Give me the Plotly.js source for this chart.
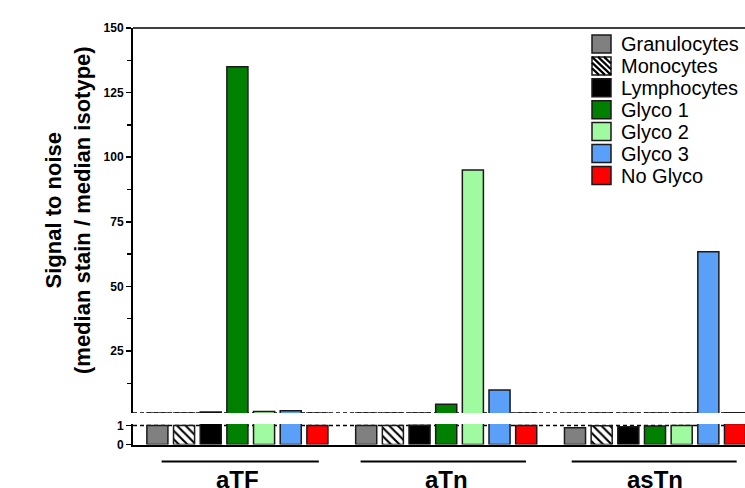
<!DOCTYPE html>
<html>
<head>
<meta charset="utf-8">
<script src="https://cdn.plot.ly/plotly-3.0.1.min.js"></script>
<style>html,body{margin:0;padding:0;background:#fff;}#chart{width:745px;height:488px;}</style>
</head>
<body>
<div id="chart"></div>
<script>
// ---- data ----
const categories = ['aTF', 'aTn', 'asTn'];
const seriesNames = ['Granulocytes', 'Monocytes', 'Lymphocytes', 'Glyco 1', 'Glyco 2', 'Glyco 3', 'No Glyco'];
const granulocytes = [1.0, 1.0, 0.88];
const monocytes = [1.0, 1.0, 0.99];
const lymphocytes = [1.4, 1.02, 0.93];
const glyco1 = [135, 4.4, 0.98];
const glyco2 = [1.6, 95, 1.0];
const glyco3 = [1.9, 9.9, 63.4];
const noGlyco = [1.0, 1.0, 1.1];
const upperTicks = [25, 50, 75, 100, 125, 150];
const lowerTicks = [0, 1];
const threshold = 1;

// ---- styles ----
const seriesValues = [granulocytes, monocytes, lymphocytes, glyco1, glyco2, glyco3, noGlyco];
const fills = ['#808080', '#ffffff', '#000000', '#008000', '#a0fba0', '#5aa0f8', '#ff0000'];
const FONT = '"Liberation Sans", Arial, sans-serif';
const lineStyle = {color: '#1a1a1a', width: 1.5};

// pixel -> paper helpers (plot area: left 133, width 612; height 488)
const PL = 133, PW = 612, H = 488;
const px = function (v) { return (v - PL) / PW; };
const py = function (v) { return (H - v) / H; };

const traces = [];
['y', 'y2'].forEach(function (ya) {
  seriesValues.forEach(function (vals, i) {
    const marker = {color: fills[i], line: lineStyle};
    if (i === 1) {
      marker.pattern = {shape: '\\', fgcolor: '#000000', bgcolor: '#ffffff', size: 6, solidity: 0.35};
    }
    traces.push({
      type: 'bar',
      name: seriesNames[i],
      x: categories,
      y: vals,
      xaxis: 'x',
      yaxis: ya,
      marker: marker,
      showlegend: false,
      hoverinfo: 'skip'
    });
  });
});

const lowerDom = [py(444.5), py(424)];
const upperDom = [py(413), py(28)];

const annotations = categories.map(function (c) {
  return {
    text: '<b>' + c + '</b>', x: c, xref: 'x', y: py(479.5), yref: 'paper',
    xanchor: 'center', yanchor: 'middle', showarrow: false,
    font: {family: FONT, size: 24, color: '#000'}
  };
});
annotations.push({
  text: '<b>Signal to noise<br>(median stain / median isotype)</b>',
  textangle: -90, xref: 'paper', yref: 'paper',
  x: px(68), y: py(210),
  xanchor: 'center', yanchor: 'middle', showarrow: false,
  font: {family: FONT, size: 22, color: '#000'}
});

const underline = [[-0.363, 0.390], [0.590, 1.382], [1.601, 2.391]];
const shapes = underline.map(function (s) {
  return {type: 'line', xref: 'x', yref: 'paper', x0: s[0], x1: s[1],
          y0: py(461.5), y1: py(461.5), line: {color: '#000', width: 2}};
});
shapes.push({type: 'line', xref: 'paper', yref: 'y', x0: 0, x1: 1, y0: threshold, y1: threshold,
             layer: 'below', line: {color: '#000', width: 1.5, dash: '4px,3px'}});
shapes.push({type: 'line', xref: 'paper', yref: 'y2', x0: 0, x1: 1, y0: threshold, y1: threshold,
             layer: 'below', line: {color: '#000', width: 1.5, dash: '4px,3px'}});
shapes.push({type: 'line', xref: 'paper', yref: 'paper', x0: 0, x1: 1, y0: upperDom[1], y1: upperDom[1],
             line: {color: '#000', width: 1.5}});

// ---- legend (drawn manually for exact spacing) ----
const legX0 = 592, legX1 = 611, legTop = 44, legStep = 21.9, legHalf = 9, legTextX = 619;
seriesNames.forEach(function (name, i) {
  const cy = legTop + i * legStep;
  shapes.push({type: 'rect', xref: 'paper', yref: 'paper',
               x0: px(legX0), x1: px(legX1), y0: py(cy + legHalf), y1: py(cy - legHalf),
               fillcolor: fills[i], line: {color: '#1a1a1a', width: 1.5}});
  if (i === 1) {
    const w = legX1 - legX0, h = 2 * legHalf, top = cy - legHalf;
    [-12, -6, 0, 6, 12].forEach(function (d) {
      // lines going down-right ("\")
      let xa, ya, xb, yb;
      if (d >= 0) { xa = legX0 + d; ya = top; xb = legX0 + w; yb = top + (w - d) * h / w; }
      else { xa = legX0; ya = top - d * h / w; xb = legX0 + w + d; yb = top + h; }
      shapes.push({type: 'line', xref: 'paper', yref: 'paper',
                   x0: px(xa), y0: py(ya), x1: px(xb), y1: py(yb),
                   line: {color: '#000', width: 2.2}});
    });
  }
  annotations.push({text: name, xref: 'paper', yref: 'paper', x: px(legTextX), y: py(cy + 0.5),
                    xanchor: 'left', yanchor: 'middle', showarrow: false,
                    font: {family: FONT, size: 20, color: '#000'}});
});

const tickFont = {family: FONT, size: 12, color: '#000', weight: 'bold'};

const layout = {
  width: 745, height: 488,
  margin: {l: 133, r: 0, t: 0, b: 0, autoexpand: false},
  paper_bgcolor: '#fff', plot_bgcolor: 'rgba(0,0,0,0)',
  barmode: 'group', bargap: 0.106, bargroupgap: 0.21,
  font: {family: FONT, color: '#000'},
  showlegend: false,
  xaxis: {
    type: 'category', range: [-0.5, 2.431], showticklabels: false, ticks: '',
    showline: true, linecolor: '#000', linewidth: 2, showgrid: false, zeroline: false,
    anchor: 'y', fixedrange: true
  },
  yaxis: {
    domain: lowerDom, range: [0, 1.08], tickvals: lowerTicks, ticktext: lowerTicks.map(String),
    ticks: 'outside', ticklen: 5, tickwidth: 1.5, tickcolor: '#000', tickfont: tickFont,
    showline: true, linecolor: '#000', linewidth: 2, showgrid: false, zeroline: false, anchor: 'x'
  },
  yaxis2: {
    domain: upperDom, range: [1, 150], tickvals: upperTicks, ticktext: upperTicks.map(String),
    ticks: 'outside', ticklen: 5, tickwidth: 1.5, tickcolor: '#000', tickfont: tickFont,
    minor: {dtick: 12.5, tick0: 0, ticks: 'outside', ticklen: 4, tickwidth: 1.5, tickcolor: '#000', showgrid: false},
    showline: true, linecolor: '#000', linewidth: 2, showgrid: false, zeroline: false, anchor: 'x'
  },
  annotations: annotations,
  shapes: shapes
};

Plotly.newPlot('chart', traces, layout, {staticPlot: true, displayModeBar: false});
</script>
</body>
</html>
